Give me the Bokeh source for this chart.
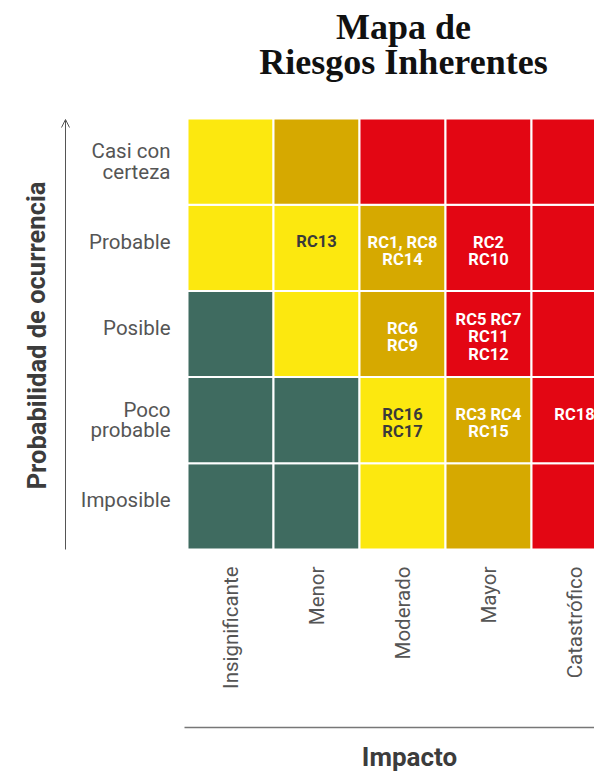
from bokeh.plotting import figure
from bokeh.models import Range1d, ColumnDataSource, Arrow, OpenHead
from bokeh.embed import file_html
from bokeh.resources import INLINE
from bokeh.core.properties import value

# ---------------- data ----------------
impacts = ["Insignificante", "Menor", "Moderado", "Mayor", "Catastrófico"]
# bottom -> top
probabilities = ["Imposible", "Poco\nprobable", "Posible", "Probable", "Casi con\ncerteza"]
# risk level per cell, rows bottom -> top, columns left -> right
levels = [
    ["bajo", "bajo", "medio", "alto", "extremo"],
    ["bajo", "bajo", "medio", "alto", "extremo"],
    ["bajo", "medio", "alto", "extremo", "extremo"],
    ["medio", "medio", "alto", "extremo", "extremo"],
    ["medio", "alto", "extremo", "extremo", "extremo"],
]
risk_impact = ["Menor", "Moderado", "Mayor", "Moderado", "Mayor", "Moderado", "Mayor", "Catastrófico"]
risk_prob = ["Probable", "Probable", "Probable", "Posible", "Posible", "Poco\nprobable", "Poco\nprobable", "Poco\nprobable"]
risk_text = ["RC13", "RC1, RC8\nRC14", "RC2\nRC10", "RC6\nRC9", "RC5 RC7\nRC11\nRC12",
             "RC16\nRC17", "RC3 RC4\nRC15", "RC18"]

title_lines = ["Mapa de", "Riesgos Inherentes"]
y_title = "Probabilidad de ocurrencia"
x_title = "Impacto"

# ---------------- styles ----------------
level_colors = {"bajo": "#3F6B60", "medio": "#FCE80F", "alto": "#D6A900", "extremo": "#E30613"}
level_text = {"bajo": "#FFFFFF", "medio": "#3A3A3A", "alto": "#FFFFFF", "extremo": "#FFFFFF"}
FONT = "Roboto"

W, H = 594, 771
GX, GY = 187.0, 549.0      # grid left / bottom in px
CW, CH = 86.0, 86.2        # cell size in px


def dx(px):
    return (px - GX) / CW


def dy(py):
    return (GY - py) / CH


p = figure(width=W, height=H, output_backend="svg", toolbar_location=None,
           x_axis_type=None, y_axis_type=None, min_border=0,
           x_range=Range1d(dx(0), dx(W)), y_range=Range1d(dy(H), dy(0)))
p.outline_line_color = None
p.grid.visible = False
p.background_fill_color = "white"
p.border_fill_color = "white"

# cells
xs, ys, cols = [], [], []
for j, row in enumerate(levels):
    for i, lev in enumerate(row):
        xs.append(i + 0.5)
        ys.append(j + 0.5)
        cols.append(level_colors[lev])
p.rect(x=xs, y=ys, width=1, height=1, fill_color=cols, line_color="white", line_width=2)

# risk labels
rx, ry, rc, roff = [], [], [], []
for imp, pr, t in zip(risk_impact, risk_prob, risk_text):
    i = impacts.index(imp)
    j = probabilities.index(pr)
    rx.append(i + 0.5)
    ry.append(j + 0.5)
    rc.append(level_text[levels[j][i]])
    roff.append(-6 if "\n" not in t else 3)
src = ColumnDataSource(dict(x=rx, y=ry, text=risk_text, color=rc, off=roff))
p.text(x="x", y="y", text="text", source=src, text_color="color", y_offset="off",
       text_font=value(FONT), text_font_style="bold", text_font_size="16.5px",
       text_align="center", text_baseline="middle", text_line_height=0.92)

# y category labels
yl_off = [-6 if "\n" not in s else 0 for s in probabilities]
p.text(x=[dx(170)] * 5, y=[j + 0.5 for j in range(5)], text=probabilities,
       y_offset=yl_off, text_font=value(FONT), text_font_size="20.5px",
       text_color="#555555", text_align="right", text_baseline="middle",
       text_line_height=0.85)

# x category labels
p.text(x=[i + 0.5 for i in range(5)], y=[dy(566)] * 5, text=impacts, angle=1.5708,
       text_font=value(FONT), text_font_size="20.5px", text_color="#555555",
       text_align="right", text_baseline="middle")

# y axis arrow + title
p.add_layout(Arrow(end=OpenHead(size=8, line_color="#555555", line_width=1),
                   x_start=dx(65), y_start=0, x_end=dx(65), y_end=dy(119),
                   line_color="#555555", line_width=1))
p.text(x=[dx(36)], y=[dy(335)], text=[y_title], angle=1.5708,
       text_font=value(FONT), text_font_style="bold", text_font_size="25.5px",
       text_color="#3C3C3C", text_align="center", text_baseline="middle")

# x axis line + title
p.segment(x0=[dx(184)], y0=[dy(727)], x1=[dx(W)], y1=[dy(727)],
          line_color="#777777", line_width=1.5)
p.text(x=[dx(409)], y=[dy(756)], text=[x_title],
       text_font=value(FONT), text_font_style="bold", text_font_size="26px",
       text_color="#3C3C3C", text_align="center", text_baseline="middle")

# title
p.text(x=[dx(403)] * 2, y=[dy(26), dy(61)], text=title_lines,
       text_font=value("Liberation Serif"), text_font_style="bold", text_font_size="36px",
       text_color="#111111", text_align="center", text_baseline="alphabetic")

open("out.html", "w").write(file_html(p, INLINE))
